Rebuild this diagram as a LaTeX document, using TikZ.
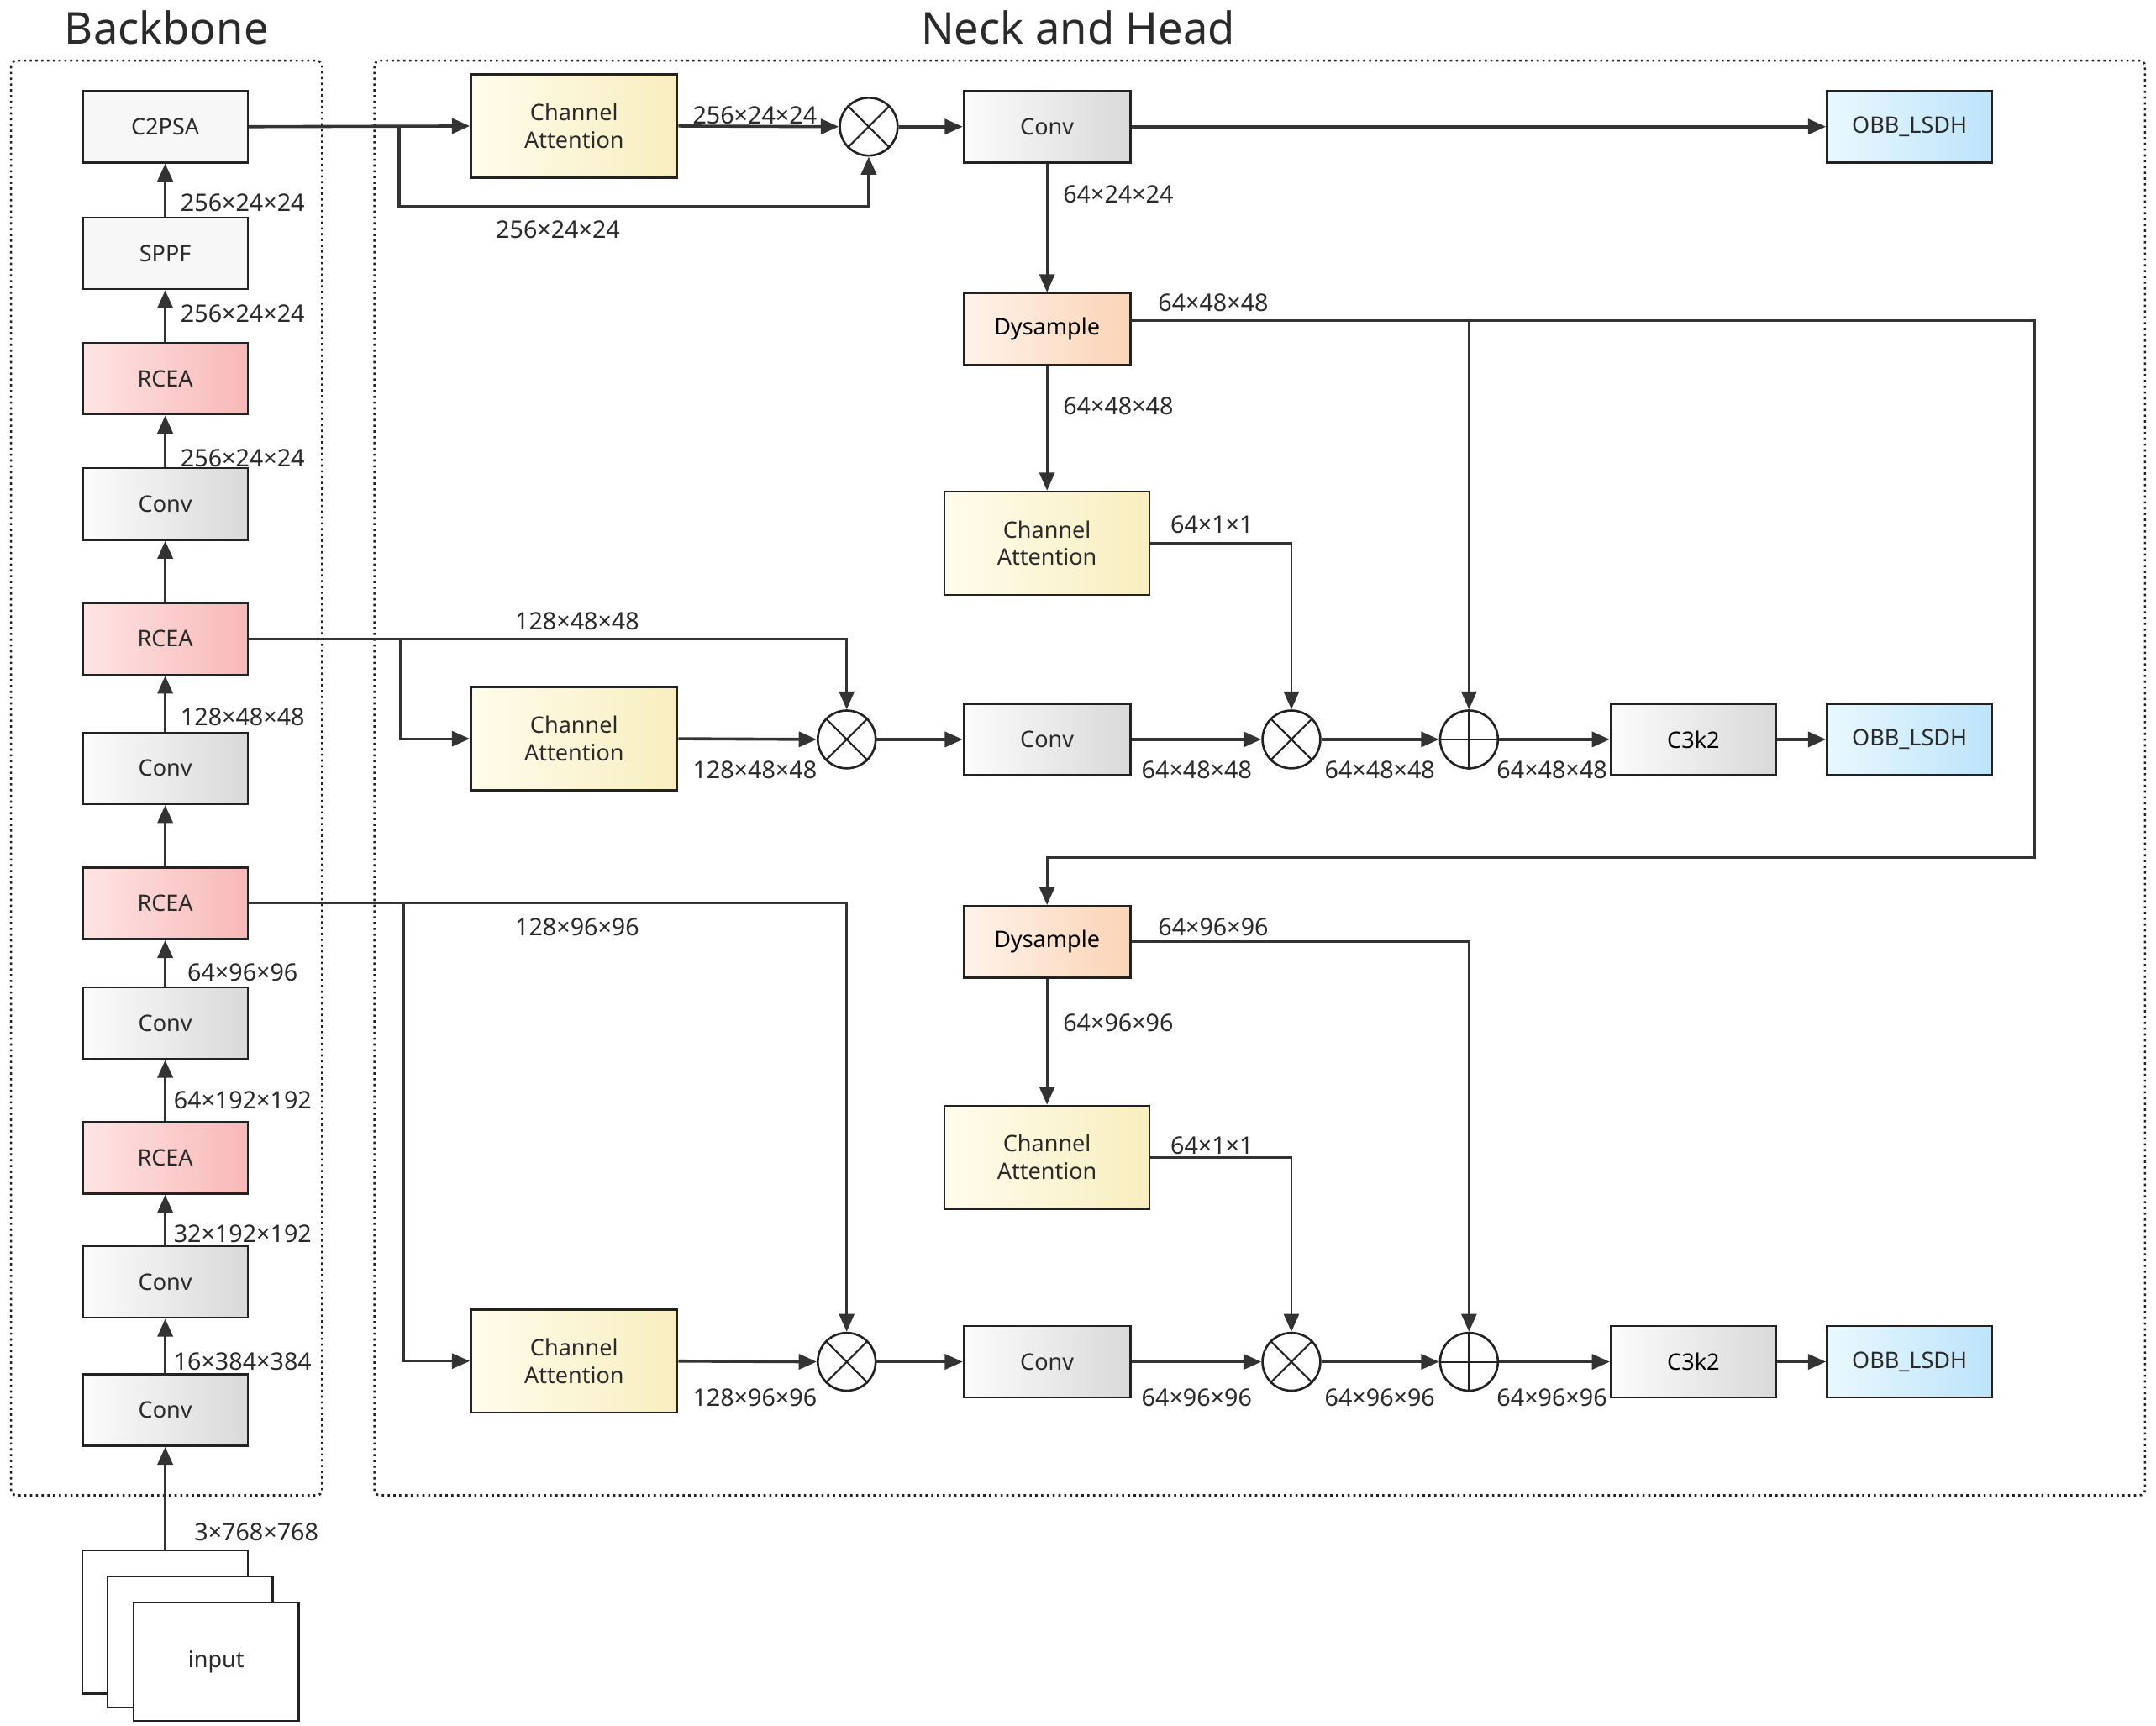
\documentclass[tikz,border=0pt]{standalone}
\usepackage{fontspec}
\setmainfont{Noto Sans}
\usetikzlibrary{arrows.meta,calc}
\definecolor{ln}{HTML}{333333}
\definecolor{tx}{HTML}{2A2A2A}
\definecolor{bd}{HTML}{222222}
\definecolor{ylL}{HTML}{FFFCEC}
\definecolor{ylR}{HTML}{F8EEBF}
\definecolor{blL}{HTML}{EAF8FF}
\definecolor{blR}{HTML}{BCE4FA}
\definecolor{pkL}{HTML}{FFE4E4}
\definecolor{pkR}{HTML}{F8B8B8}
\definecolor{orL}{HTML}{FFF3EA}
\definecolor{orR}{HTML}{FBD4B6}
\definecolor{grL}{HTML}{FCFCFC}
\definecolor{grR}{HTML}{D9D9D9}
\begin{document}
\begin{tikzpicture}[x=1pt,y=-1pt,
  basebox/.style={draw=bd, line width=1.5pt, inner sep=0pt, align=center, text=tx,
     font=\fontsize{16.5}{20}\selectfont},
  sbox/.style={basebox, minimum width=120pt, minimum height=52pt},
  flatbox/.style={sbox, fill=black!3},
  graybox/.style={sbox, left color=grL, right color=grR},
  pinkbox/.style={sbox, left color=pkL, right color=pkR},
  orangebox/.style={sbox, left color=orL, right color=orR, text=black},
  bluebox/.style={sbox, left color=blL, right color=blR},
  cabox/.style={basebox, minimum width=150pt, minimum height=75pt, left color=ylL, right color=ylR},
  inbox/.style={draw=bd, line width=1.4pt, fill=white, minimum width=120pt, inner sep=0pt, text=tx, font=\fontsize{16.5}{20}\selectfont},
  opnode/.style={circle, draw=bd, line width=1.6pt, minimum size=42pt, inner sep=0pt, fill=white},
  arr/.style={draw=ln, line width=2.2pt, -{Triangle[length=13pt,width=11pt]}},
  thin/.style={draw=ln, line width=1.8pt, -{Triangle[length=13pt,width=11pt]}},
  lbl/.style={anchor=west, text=tx, inner sep=0pt, font=\fontsize{17.5}{19}\selectfont},
  frame/.style={draw=bd, line width=1.6pt, dash pattern=on 1.6pt off 2.6pt, rounded corners=4pt},
  ttl/.style={text=tx, font=\fontsize{32}{36}\selectfont}
]
\useasboundingbox (0,0) rectangle (1566,1253.5);
\fill[white] (0,0) rectangle (1566,1253.5);

% titles and frames
\node[ttl] (t1) at (121,20) {Backbone};
\node[ttl] (t2) at (783,20) {Neck and Head};
\draw[frame] (8,44) rectangle (234,1086);
\draw[frame] (272,44) rectangle (1558,1086);

% backbone
\node[flatbox] (c2psa) at (120,92) {C2PSA};
\node[flatbox] (sppf) at (120,184) {SPPF};
\node[pinkbox] (rcea1) at (120,275) {RCEA};
\node[graybox] (conv1) at (120,366) {Conv};
\node[pinkbox] (rcea2) at (120,464) {RCEA};
\node[graybox] (conv2) at (120,558) {Conv};
\node[pinkbox] (rcea3) at (120,656) {RCEA};
\node[graybox] (conv3) at (120,743) {Conv};
\node[pinkbox] (rcea4) at (120,841) {RCEA};
\node[graybox] (conv4) at (120,931) {Conv};
\node[graybox] (conv5) at (120,1024) {Conv};

% input stack
\node[inbox, minimum height=104pt] (in1) at (120,1178) {};
\node[inbox, minimum height=95pt] (in2) at (138,1192.5) {};
\node[inbox, minimum height=86pt] (in3) at (157,1207) {input};

\draw[arr] (in1.north) -- (conv5.south);
\draw[arr] (conv5.north) -- (conv4.south);
\draw[arr] (conv4.north) -- (rcea4.south);
\draw[arr] (rcea4.north) -- (conv3.south);
\draw[arr] (conv3.north) -- (rcea3.south);
\draw[arr] (rcea3.north) -- (conv2.south);
\draw[arr] (conv2.north) -- (rcea2.south);
\draw[arr] (rcea2.north) -- (conv1.south);
\draw[arr] (conv1.north) -- (rcea1.south);
\draw[arr] (rcea1.north) -- (sppf.south);
\draw[arr] (sppf.north) -- (c2psa.south);

\node[lbl] (l1) at (131,147) {256×24×24};
\node[lbl] (l2) at (131,228) {256×24×24};
\node[lbl] (l3) at (131,333) {256×24×24};
\node[lbl] (l4) at (131,521) {128×48×48};
\node[lbl] (l5) at (136,706) {64×96×96};
\node[lbl] (l6) at (126,799) {64×192×192};
\node[lbl] (l7) at (126,896) {32×192×192};
\node[lbl] (l8) at (126,989) {16×384×384};
\node[lbl] (l9) at (141,1113) {3×768×768};

% neck row 1
\node[cabox] (ca1) at (417,91.5) {Channel\\Attention};
\node[opnode] (m1) at (631,92) {};
\node[graybox, minimum width=121pt] (convA) at (760.5,92) {Conv};
\node[bluebox] (obb1) at (1387,92) {OBB\_LSDH};
\node[orangebox, minimum width=121pt] (dys1) at (760.5,239) {Dysample};
\node[cabox, minimum width=149pt] (ca2) at (760.5,394.5) {Channel\\Attention};

% row 2
\node[cabox] (ca3) at (417,536.5) {Channel\\Attention};
\node[opnode] (m2) at (615,537) {};
\node[graybox, minimum width=121pt] (convB) at (760.5,537) {Conv};
\node[opnode] (m3) at (938,537) {};
\node[opnode] (p1) at (1067,537) {};
\node[graybox] (c3k2a) at (1230,537) {\color{black}C3k2};
\node[bluebox] (obb2) at (1387,537) {OBB\_LSDH};

% row 3
\node[orangebox, minimum width=121pt] (dys2) at (760.5,684) {Dysample};
\node[cabox, minimum width=149pt] (ca5) at (760.5,840.5) {Channel\\Attention};
\node[cabox] (ca4) at (417,988.5) {Channel\\Attention};
\node[opnode] (m4) at (615,989) {};
\node[graybox, minimum width=121pt] (convC) at (760.5,989) {Conv};
\node[opnode] (m5) at (938,989) {};
\node[opnode] (p2) at (1067,989) {};
\node[graybox] (c3k2b) at (1230,989) {\color{black}C3k2};
\node[bluebox] (obb3) at (1387,989) {OBB\_LSDH};

% operator symbols
\foreach \m in {m1,m2,m3,m4,m5}{
  \draw[bd, line width=1.3pt] (\m.north east) -- (\m.south west);
  \draw[bd, line width=1.3pt] (\m.north west) -- (\m.south east);
}
\foreach \m in {p1,p2}{
  \draw[bd, line width=1.3pt] (\m.north) -- (\m.south);
  \draw[bd, line width=1.3pt] (\m.west) -- (\m.east);
}

% branch points
\coordinate (b1) at (290,92);
\coordinate (b2) at (291,464);
\coordinate (b3) at (293,656);
\coordinate (d1o) at (821,233);
\coordinate (d1b) at (1067,233);
\coordinate (d1r) at (1478,233);
\coordinate (d1d) at (1478,623);

% row 1 connectors
\draw[arr] (c2psa.east) -- (ca1.west);
\draw[arr] (b1) -- ++(0,58) -| (m1.south);
\draw[arr] (ca1.east) -- (m1.west);
\draw[arr] (m1.east) -- (convA.west);
\draw[arr] (convA.east) -- (obb1.west);
\draw[thin] (convA.south) -- (dys1.north);
\draw[thin] (d1o) -- (d1r) -- (d1d) -| (dys2.north);
\draw[thin] (d1b) -- (p1.north);
\draw[thin] (dys1.south) -- (ca2.north);
\draw[thin] (ca2.east) -| (m3.north);

% row 2 connectors
\draw[thin] (rcea2.east) -| (m2.north);
\draw[thin] (b2) |- (ca3.west);
\draw[arr] (ca3.east) -- (m2.west);
\draw[arr] (m2.east) -- (convB.west);
\draw[arr] (convB.east) -- (m3.west);
\draw[arr] (m3.east) -- (p1.west);
\draw[arr] (p1.east) -- (c3k2a.west);
\draw[arr] (c3k2a.east) -- (obb2.west);

% row 3 connectors
\draw[thin] (dys2.east) -| (p2.north);
\draw[thin] (dys2.south) -- (ca5.north);
\draw[thin] (ca5.east) -| (m5.north);
\draw[thin] (rcea3.east) -| (m4.north);
\draw[thin] (b3) |- (ca4.west);
\draw[arr] (ca4.east) -- (m4.west);
\draw[arr] (m4.east) -- (convC.west);
\draw[arr] (convC.east) -- (m5.west);
\draw[arr] (m5.east) -- (p2.west);
\draw[arr] (p2.east) -- (c3k2b.west);
\draw[arr] (c3k2b.east) -- (obb3.west);

% neck labels
\node[lbl] (n1) at (503,84) {256×24×24};
\node[lbl] (n2) at (360,167) {256×24×24};
\node[lbl] (n3) at (772,141) {64×24×24};
\node[lbl] (n4) at (841,220) {64×48×48};
\node[lbl] (n5) at (772,295) {64×48×48};
\node[lbl] (n6) at (850,381) {64×1×1};
\node[lbl] (n7) at (374,451) {128×48×48};
\node[lbl] (n8) at (503,559) {128×48×48};
\node[lbl] (n9) at (829,559) {64×48×48};
\node[lbl] (n10) at (962,559) {64×48×48};
\node[lbl] (n11) at (1087,559) {64×48×48};
\node[lbl] (n12) at (374,673) {128×96×96};
\node[lbl] (n13) at (841,673) {64×96×96};
\node[lbl] (n14) at (772,743) {64×96×96};
\node[lbl] (n15) at (850,832) {64×1×1};
\node[lbl] (n16) at (503,1015) {128×96×96};
\node[lbl] (n17) at (829,1015) {64×96×96};
\node[lbl] (n18) at (962,1015) {64×96×96};
\node[lbl] (n19) at (1087,1015) {64×96×96};
\end{tikzpicture}
\end{document}
